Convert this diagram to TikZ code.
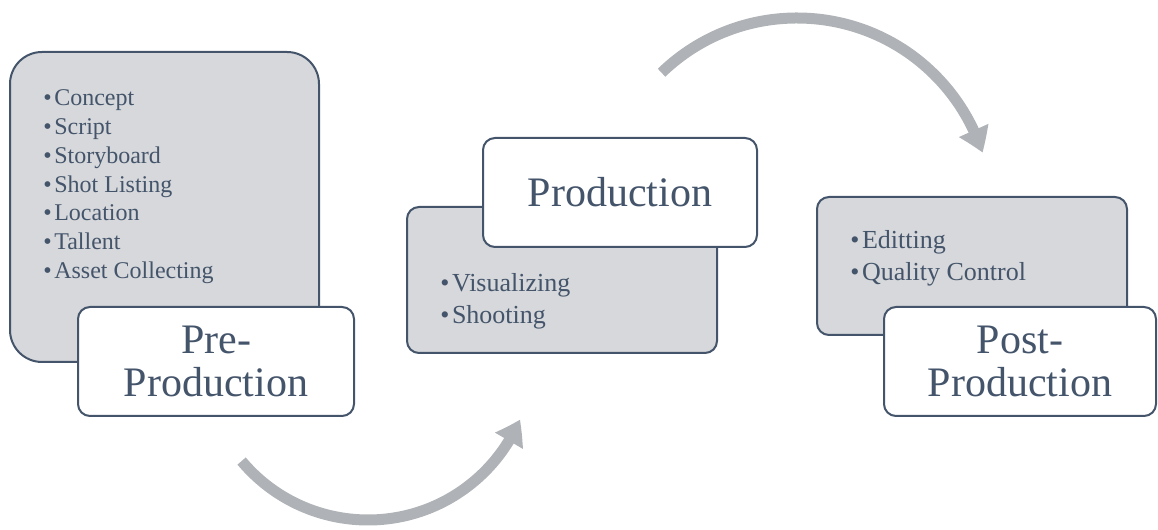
\documentclass[tikz,border=0pt]{standalone}
\usepackage{fontspec}
\setmainfont{Liberation Serif}
\usetikzlibrary{arrows.meta}
\usetikzlibrary{bending}
\definecolor{slate}{HTML}{44546A}
\definecolor{panel}{HTML}{D6D8DB}
\definecolor{arrowgray}{HTML}{AFB2B6}
\newcommand{\bitem}[1]{\textbullet\hspace{2pt}#1}
\begin{document}
\begin{tikzpicture}[x=0.75pt,y=0.75pt,
    info box/.style={draw=slate,fill=panel,line width=1.5pt,inner sep=0pt},
    title box/.style={draw=slate,fill=white,line width=1.5pt,rounded corners=9pt,inner sep=0pt,
      minimum height=109*0.75pt,align=center,text=slate,font=\fontsize{31.5}{32.25}\selectfont},
    list text/.style={anchor=north west,inner sep=0pt,align=left,text=slate},
    flow arrow/.style={draw=arrowgray,line width=8.25pt,-{Triangle[width=23pt,length=18pt,bend]}}]
  \useasboundingbox (0,0) rectangle (1158,530);
  % gray panels
  \node[info box,rounded corners=24pt,minimum width=309*0.75pt,minimum height=310*0.75pt] (pre panel) at (164.5,323) {};
  \node[info box,rounded corners=9pt,minimum width=310*0.75pt,minimum height=146*0.75pt] (prod panel) at (562,250) {};
  \node[info box,rounded corners=9pt,minimum width=310*0.75pt,minimum height=138*0.75pt] (post panel) at (972,264) {};
  % bullet lists
  \node[list text,font=\fontsize{18}{21.6}\selectfont] (pre list) at (43,444.7)
    {\strut\bitem{Concept}\\\bitem{Script}\\\bitem{Storyboard}\\\bitem{Shot Listing}\\\bitem{Location}\\\bitem{Tallent}\\\bitem{Asset Collecting}};
  \node[list text,font=\fontsize{19.5}{24}\selectfont] (prod list) at (440,261.5)
    {\strut\bitem{Visualizing}\\\bitem{Shooting}};
  \node[list text,font=\fontsize{19.5}{24}\selectfont] (post list) at (850,304.5)
    {\strut\bitem{Editting}\\\bitem{Quality Control}};
  % title boxes
  \node[title box,minimum width=276*0.75pt] (pre title) at (216,168.5) {Pre-\\Production};
  \node[title box,minimum width=274*0.75pt] (prod title) at (620,337.5) {Production};
  \node[title box,minimum width=272*0.75pt] (post title) at (1020,168.5) {Post-\\Production};
  % curved arrows
  \coordinate (low start) at ({368+165*cos(-140)},{175+165*sin(-140)});
  \coordinate (high start) at ({797+195*cos(134)},{317+195*sin(134)});
  \draw[flow arrow] (low start) arc[start angle=-140,end angle=-23,radius=165];
  \draw[flow arrow] (high start) arc[start angle=134,end angle=18,radius=195];
\end{tikzpicture}
\end{document}
